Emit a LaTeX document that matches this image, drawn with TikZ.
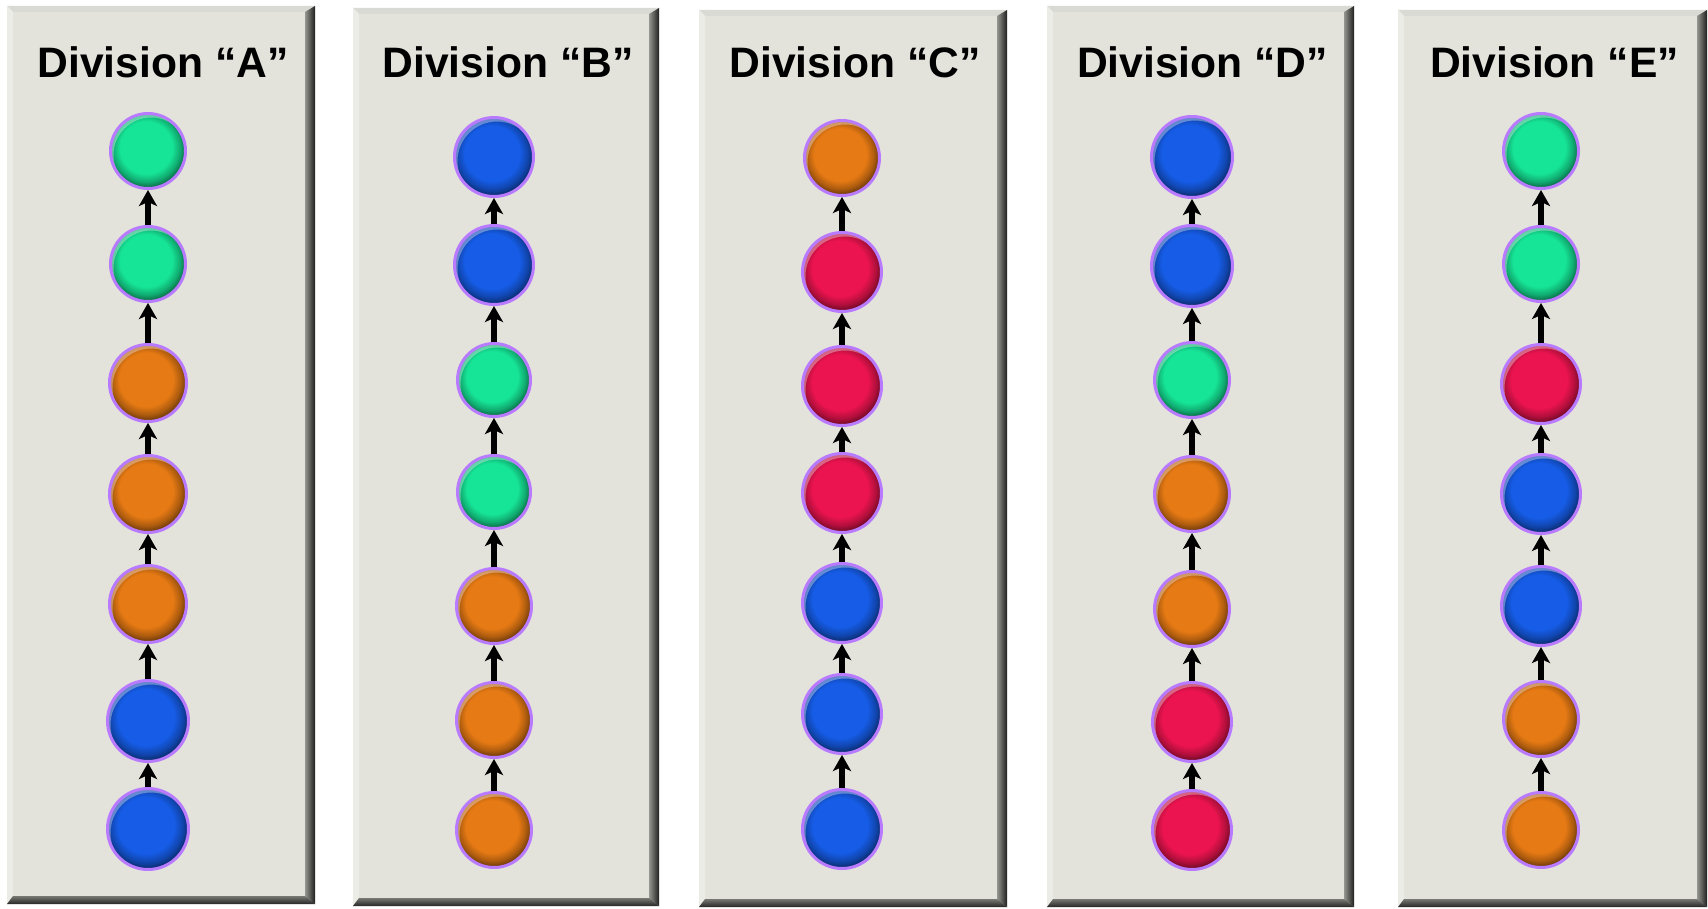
\documentclass[tikz,border=0pt]{standalone}
\usepackage{fontspec}
\setmainfont{Liberation Sans}
\usetikzlibrary{arrows.meta}
\definecolor{gbase}{RGB}{22,228,150}
\definecolor{bbase}{RGB}{22,92,230}
\definecolor{obase}{RGB}{230,122,20}
\definecolor{rbase}{RGB}{236,20,80}
\definecolor{ballborder}{RGB}{184,122,255}
\definecolor{panelface}{RGB}{227,227,220}
\definecolor{paneltop}{RGB}{218,218,212}
\definecolor{panelleft}{RGB}{236,236,231}
\definecolor{panelrim}{RGB}{150,150,144}
\pgfdeclareradialshading{ballg}{\pgfpoint{-2bp}{3.5bp}}{color(0bp)=(gbase); color(17.5bp)=(gbase); color(22.5bp)=(gbase!75!black); color(27bp)=(gbase!40!black); color(50bp)=(gbase!40!black)}
\pgfdeclareradialshading{ballb}{\pgfpoint{-2bp}{3.5bp}}{color(0bp)=(bbase); color(17.5bp)=(bbase); color(22.5bp)=(bbase!75!black); color(27bp)=(bbase!40!black); color(50bp)=(bbase!40!black)}
\pgfdeclareradialshading{ballo}{\pgfpoint{-2bp}{3.5bp}}{color(0bp)=(obase); color(17.5bp)=(obase); color(22.5bp)=(obase!75!black); color(27bp)=(obase!40!black); color(50bp)=(obase!40!black)}
\pgfdeclareradialshading{ballr}{\pgfpoint{-2bp}{3.5bp}}{color(0bp)=(rbase); color(17.5bp)=(rbase); color(22.5bp)=(rbase!75!black); color(27bp)=(rbase!40!black); color(50bp)=(rbase!40!black)}
\tikzset{
  ballg/.style={shading=ballg}, ballb/.style={shading=ballb},
  ballo/.style={shading=ballo}, ballr/.style={shading=ballr},
  ball/.style={circle, draw=ballborder, line width=1.5pt, inner sep=0pt,
    minimum size={(2*#1-3)*0.5pt}, shade,
    path picture={\fill[white, fill opacity=0.35, even odd rule]
      (path picture bounding box.center) circle ({(#1-1.5)*0.5pt})
      ([xshift=1.5pt, yshift=-2pt]path picture bounding box.center) circle ({(#1-1.5)*0.5pt});}},
  uparrow/.style={line width=3pt, -{Stealth[length=8pt, width=9pt, inset=2pt]}},
  titletext/.style={anchor=base, inner sep=0pt, font=\bfseries\fontsize{21.3}{25}\selectfont},
}
\newcommand\drawpanel[6]{%
  \fill[panelface] (#1,#2) rectangle (#3,#4);
  \fill[paneltop] (#1,#2) -- (#3,#2) -- (#3-10,#2+6) -- (#1+6,#2+6) -- cycle;
  \fill[panelleft] (#1,#2) -- (#1+6,#2+6) -- (#1+6,#4-8) -- (#1,#4) -- cycle;
  \shade[left color=panelrim, right color=black!88] (#3,#2) -- (#3,#4) -- (#3-10,#4-8) -- (#3-10,#2+6) -- cycle;
  \shade[top color=panelrim!80!black, bottom color=black!85] (#1,#4) -- (#3,#4) -- (#3-10,#4-8) -- (#1+6,#4-8) -- cycle;
  \node[titletext] (t#6) at ({(#1+#3)/2+2},78) {Division “#5”};
}
\newcommand\colballs[9]{%
  \foreach \yy/\cc/\rr [count=\k] in {#3,#4,#5,#6,#7,#8,#9} {
    \node[ball=\rr, ball\cc] (#1\k) at (#2,\yy) {};
  }
  \foreach \k [evaluate=\k as \kn using int(\k+1)] in {1,...,6} {
    \draw[uparrow] (#1\k.north) -- (#1\kn.south);
  }
}
\begin{document}
\begin{tikzpicture}[x=0.5pt, y=-0.5pt]
\fill[white] (0,0) rectangle (1708,909);
\useasboundingbox (0,0) rectangle (1708,909);
\drawpanel{7}{6}{315}{904}{A}{a}
\drawpanel{353}{8}{659}{906}{B}{b}
\drawpanel{699}{10}{1007}{907}{C}{c}
\drawpanel{1047}{6}{1354}{907}{D}{d}
\drawpanel{1398}{10}{1707}{907}{E}{e}
\colballs{a}{148}{829/b/42}{721/b/42}{604/o/40}{494/o/40}{383/o/40}{264/g/39}{151/g/39}
\colballs{b}{494}{830/o/39}{720/o/39}{606/o/39}{492/g/38}{380/g/38}{265/b/41}{157/b/41}
\colballs{c}{842}{829/b/41}{714/b/41}{603/b/41}{493/r/41}{386/r/41}{272/r/41}{158/o/39}
\colballs{d}{1192}{830/r/41}{722/r/41}{609/o/39}{494/o/39}{380/g/39}{266/b/42}{157/b/42}
\colballs{e}{1541}{830/o/39}{719/o/39}{606/b/41}{494/b/41}{384/r/41}{264/g/39}{151/g/39}
\end{tikzpicture}
\end{document}
